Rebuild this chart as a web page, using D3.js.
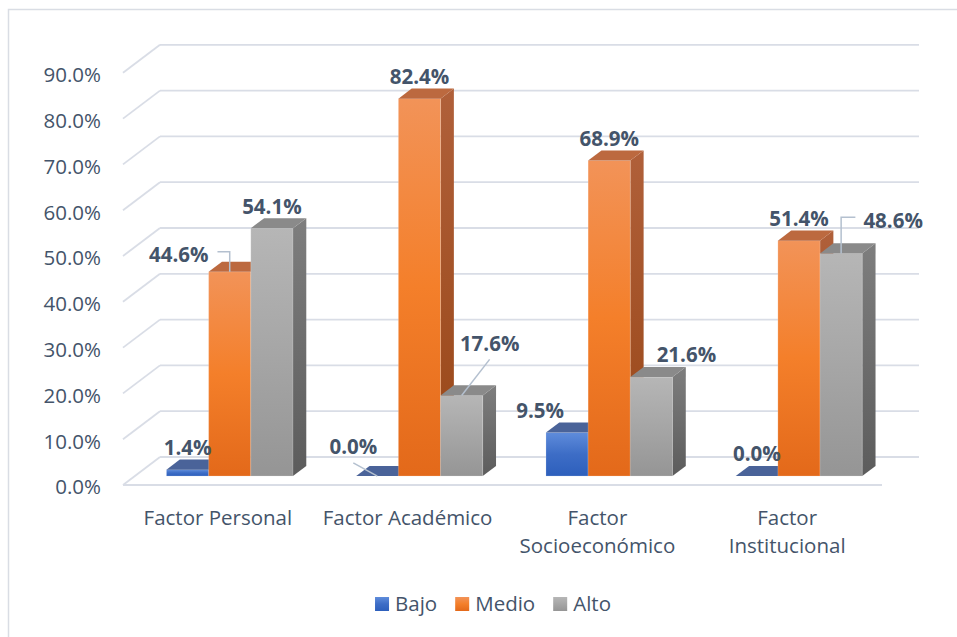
<!DOCTYPE html>
<html>
<head>
<meta charset="utf-8">
<script src="https://cdn.jsdelivr.net/npm/d3@7"></script>
<style>
  html, body { margin: 0; padding: 0; background: #fff; }
  #chart { width: 957px; height: 637px; }
  text { font-family: "Open Sans", "Noto Sans", sans-serif; fill: #44546A; }
</style>
</head>
<body>
<div id="chart"></div>
<script>
var categories = ["Factor Personal", "Factor Académico", "Factor Socioeconómico", "Factor Institucional"];
var series = ["Bajo", "Medio", "Alto"];
var bajo = [0.014, 0.000, 0.095, 0.000];
var medio = [0.446, 0.824, 0.689, 0.514];
var alto = [0.541, 0.176, 0.216, 0.486];
var yTicks = [0, 0.1, 0.2, 0.3, 0.4, 0.5, 0.6, 0.7, 0.8, 0.9];

// labels that were dragged away from their default spot: [dx, dy, leader]
var labelMoves = {
    "Factor Personal|Medio": [-51, 5, "elbow"],
    "Factor Académico|Bajo": [-24, -7, "straight"],
    "Factor Académico|Alto": [28, -30, "straight"],
    "Factor Socioeconómico|Bajo": [-27, 0, null],
    "Factor Socioeconómico|Alto": [35, 0, null],
    "Factor Institucional|Alto": [52, -11, "elbow"]
};

var colors = {
    Bajo:  {front: ["#5F8CDB", "#3D6DC6", "#2D5FBC"], side: ["#2F5090", "#233F75"], top: "#4A6399"},
    Medio: {front: ["#F29358", "#F47F2A", "#E3691A"], side: ["#B0603A", "#984616"], top: "#BC693F"},
    Alto:  {front: ["#B6B6B6", "#A6A6A6", "#959595"], side: ["#7E7E7E", "#5C5C5C"], top: "#8A8A8A"}
};

function drawChart() {
    var W = 957, H = 637;
    var svg = d3.select("#chart").append("svg")
        .attr("width", W).attr("height", H);

    var defs = svg.append("defs");
    series.forEach(function(s) {
        var c = colors[s];
        var gf = defs.append("linearGradient").attr("id", "front-" + s)
            .attr("x1", 0).attr("y1", 0).attr("x2", 0).attr("y2", 1);
        gf.append("stop").attr("offset", "0%").attr("stop-color", c.front[0]);
        gf.append("stop").attr("offset", "50%").attr("stop-color", c.front[1]);
        gf.append("stop").attr("offset", "100%").attr("stop-color", c.front[2]);
        var gs = defs.append("linearGradient").attr("id", "side-" + s)
            .attr("x1", 0).attr("y1", 0).attr("x2", 0).attr("y2", 1);
        gs.append("stop").attr("offset", "0%").attr("stop-color", c.side[0]);
        gs.append("stop").attr("offset", "100%").attr("stop-color", c.side[1]);
    });

    // outer chart border (only top and left show in the crop)
    svg.append("path")
        .attr("d", "M8.5," + H + "V9.5H" + W)
        .attr("fill", "none")
        .attr("stroke", "#D9DDE4")
        .attr("stroke-width", 1.5);

    // 3d frame: front floor edge and depth offsets
    var floorX0 = 123, floorX1 = 882;
    var depthX = 37, depthY = 28;

    var y = d3.scaleLinear().domain([0, 0.9]).range([485, 72.8]);
    var x = d3.scaleBand().domain(categories).range([floorX0, floorX1]);
    var bw = x.bandwidth();
    var xs = d3.scaleBand().domain(series).range([bw / 6, bw * 5 / 6]);

    var grid = svg.append("g").attr("class", "grid");
    yTicks.forEach(function(t) {
        var yf = y(t), yb = y(t) - depthY;
        grid.append("line")
            .attr("x1", floorX0 + depthX).attr("y1", yb)
            .attr("x2", floorX1 + depthX).attr("y2", yb);
        grid.append("line")
            .attr("x1", floorX0).attr("y1", yf)
            .attr("x2", floorX0 + depthX).attr("y2", yb);
    });
    grid.append("line")
        .attr("x1", floorX0).attr("y1", y(0))
        .attr("x2", floorX1).attr("y2", y(0));
    grid.selectAll("line")
        .attr("stroke", "#D9DDE6")
        .attr("stroke-width", 1.8);

    svg.append("g").selectAll("text")
        .data(yTicks)
        .enter().append("text")
        .attr("x", 101)
        .attr("y", function(d) { return y(d) + 2; })
        .attr("dy", "0.36em")
        .attr("text-anchor", "end")
        .style("font-size", "20.5px")
        .text(function(d) { return d3.format(".1%")(d); });

    // bars sit in the middle of the floor depth
    var d0 = 0.32, d1 = 0.68;
    var bdx = (d1 - d0) * depthX, bdy = (d1 - d0) * depthY;

    var data = [];
    categories.forEach(function(c, i) {
        [bajo, medio, alto].forEach(function(arr, j) {
            data.push({cat: c, s: series[j], value: arr[i]});
        });
    });
    data.forEach(function(d) {
        d.x0 = x(d.cat) + xs(d.s) + d0 * depthX;
        d.x1 = d.x0 + xs.bandwidth();
        d.yBase = y(0) - d0 * depthY;
        d.yTop = y(d.value) - d0 * depthY;
    });

    var bars = svg.append("g").selectAll("g")
        .data(data)
        .enter().append("g");

    bars.append("path")
        .attr("fill", function(d) { return "url(#side-" + d.s + ")"; })
        .attr("d", function(d) {
            return "M" + d.x1 + "," + d.yTop + "L" + (d.x1 + bdx) + "," + (d.yTop - bdy) +
                "L" + (d.x1 + bdx) + "," + (d.yBase - bdy) + "L" + d.x1 + "," + d.yBase + "Z";
        });
    bars.append("rect")
        .attr("x", function(d) { return d.x0; })
        .attr("y", function(d) { return d.yTop; })
        .attr("width", function(d) { return d.x1 - d.x0; })
        .attr("height", function(d) { return d.yBase - d.yTop; })
        .attr("fill", function(d) { return "url(#front-" + d.s + ")"; })
        .attr("stroke", "rgba(255,255,255,0.18)")
        .attr("stroke-width", 1);
    bars.append("path")
        .attr("fill", function(d) { return colors[d.s].top; })
        .attr("d", function(d) {
            return "M" + d.x0 + "," + d.yTop + "L" + d.x1 + "," + d.yTop +
                "L" + (d.x1 + bdx) + "," + (d.yTop - bdy) + "L" + (d.x0 + bdx) + "," + (d.yTop - bdy) + "Z";
        });

    // data labels
    var labels = svg.append("g");
    data.forEach(function(d) {
        var ax = (d.x0 + d.x1) / 2;
        var lx = ax, ly = d.yTop - bdy - 12;
        var mv = labelMoves[d.cat + "|" + d.s];
        if (mv) { lx += mv[0]; ly += mv[1]; }
        var t = labels.append("text")
            .attr("x", lx).attr("y", ly)
            .attr("dy", "0.36em")
            .attr("text-anchor", "middle")
            .style("font-size", "20.5px")
            .style("font-weight", "700")
            .text(d3.format(".1%")(d.value));
        if (mv && mv[2]) {
            var w = t.node().getComputedTextLength();
            var p;
            if (mv[2] === "elbow") {
                var sx = mv[0] < 0 ? lx + w / 2 + 9 : lx - w / 2 - 8;
                p = "M" + sx + "," + (ly - 3) + "H" + ax + "V" + d.yTop;
            } else {
                p = "M" + lx + "," + (ly + 16) + "L" + ax + "," + d.yTop;
            }
            labels.insert("path", "text")
                .attr("d", p)
                .attr("fill", "none")
                .attr("stroke", "#B4C0CF")
                .attr("stroke-width", 1.5);
        }
    });

    // category labels, wrapped when too wide for the band
    var catG = svg.append("g");
    categories.forEach(function(c) {
        var cx = x(c) + bw / 2;
        var t = catG.append("text")
            .attr("x", cx).attr("y", 518)
            .attr("dy", "0.36em")
            .attr("text-anchor", "middle")
            .style("font-size", "20.5px")
            .text(c);
        if (t.node().getComputedTextLength() > bw * 0.95) {
            var words = c.split(" ");
            t.text(words[0]);
            catG.append("text")
                .attr("x", cx).attr("y", 546)
                .attr("dy", "0.36em")
                .attr("text-anchor", "middle")
                .style("font-size", "20.5px")
                .text(words.slice(1).join(" "));
        }
    });

    // legend
    var leg = svg.append("g");
    var pos = 0;
    series.forEach(function(s, i) {
        var g = leg.append("g").attr("transform", "translate(" + pos + ",0)");
        g.append("rect")
            .attr("x", 0).attr("y", 597)
            .attr("width", 14).attr("height", 14)
            .attr("fill", "url(#front-" + s + ")");
        var t = g.append("text")
            .attr("x", 20).attr("y", 604)
            .attr("dy", "0.36em")
            .style("font-size", "20.5px")
            .text(s);
        pos += 20 + t.node().getComputedTextLength() + 18;
    });
    var legW = pos - 18;
    leg.attr("transform", "translate(" + (493 - legW / 2) + ",0)");
}

drawChart();
</script>
</body>
</html>
